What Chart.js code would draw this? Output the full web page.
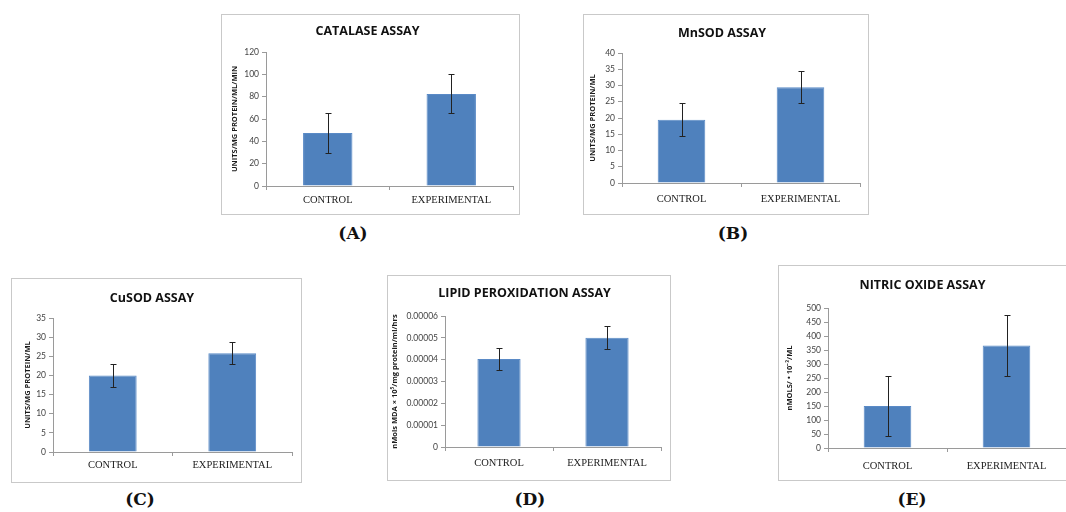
<!DOCTYPE html>
<html>
<head>
<meta charset="utf-8">
<script src="https://cdn.jsdelivr.net/npm/chart.js@4.4.0/dist/chart.umd.min.js"></script>
<style>
  body { margin: 0; background: #fff; width: 1066px; height: 512px; overflow: hidden; position: relative; }
  .panel { position: absolute; box-sizing: border-box; border: 1px solid #c9c9c9; background: #fff; }
  .panel canvas { display: block; }
  .tag { position: absolute; transform: translateX(-50%); font-family: "DejaVu Serif", serif; font-weight: bold; font-size: 17px; color: #111; }
</style>
</head>
<body>
<div class="panel" id="pA" style="left:221px;top:14px;width:299px;height:201px"><canvas id="cA"></canvas></div>
<div class="panel" id="pB" style="left:583px;top:14px;width:286px;height:201px"><canvas id="cB"></canvas></div>
<div class="panel" id="pC" style="left:11px;top:278px;width:291px;height:205px"><canvas id="cC"></canvas></div>
<div class="panel" id="pD" style="left:387px;top:275px;width:284px;height:206px"><canvas id="cD"></canvas></div>
<div class="panel" id="pE" style="left:778px;top:265px;width:300px;height:216px"><canvas id="cE"></canvas></div>

<div class="tag" style="left:353px;top:223px">(A)</div>
<div class="tag" style="left:733px;top:223px">(B)</div>
<div class="tag" style="left:140px;top:489px">(C)</div>
<div class="tag" style="left:530px;top:489px">(D)</div>
<div class="tag" style="left:912px;top:489px">(E)</div>

<script>
// data
const categories = ['CONTROL', 'EXPERIMENTAL'];

const catalaseMean = [47.5, 82.5];
const catalaseErr = [17.8, 17.5];

const mnsodMean = [19.5, 29.5];
const mnsodErr = [5, 5];

const cusodMean = [20, 25.8];
const cusodErr = [2.9, 2.9];

const lipidMean = [0.0000403, 0.00005];
const lipidErr = [0.0000049, 0.0000052];

const nitricMean = [150, 366];
const nitricErr = [108, 108];

const axisGrey = '#9a9a9a';
const barBlue = '#4f81bd';

// draws the +/- error whiskers on top of the bars
const errorBars = {
    id: 'errorBars',
    afterDatasetsDraw(chart) {
        const ctx = chart.ctx;
        const y = chart.scales.y;
        const ds = chart.data.datasets[0];
        const meta = chart.getDatasetMeta(0);
        ctx.save();
        ctx.strokeStyle = '#222';
        ctx.lineWidth = 1;
        meta.data.forEach((bar, i) => {
            const top = Math.round(y.getPixelForValue(ds.data[i] + ds.errors[i])) + 0.5;
            const bot = Math.round(y.getPixelForValue(ds.data[i] - ds.errors[i])) + 0.5;
            const x = Math.round(bar.x) + 0.5;
            ctx.beginPath();
            ctx.moveTo(x, top); ctx.lineTo(x, bot);
            ctx.moveTo(x - 3, top); ctx.lineTo(x + 3, top);
            ctx.moveTo(x - 3, bot); ctx.lineTo(x + 3, bot);
            ctx.stroke();
        });
        ctx.restore();
    }
};

// p: plot box inside the canvas (left, top, right pad, x-axis height), titleY: title centre
function makeChart(id, title, yTitle, means, errs, yMax, step, p, fmt) {
    const panel = document.getElementById('p' + id);
    const canvas = document.getElementById('c' + id);
    const w = panel.clientWidth, h = panel.clientHeight;
    canvas.width = w; canvas.height = h;
    const titleSize = 12.5;
    const tLine = titleSize * 1.2;
    return new Chart(canvas.getContext('2d'), {
        type: 'bar',
        data: {
            labels: categories,
            datasets: [{
                data: means,
                errors: errs,
                backgroundColor: barBlue,
                borderColor: '#5a8ac6',
                borderWidth: 1,
                categoryPercentage: 0.8,
                barPercentage: 0.5
            }]
        },
        options: {
            responsive: false,
            animation: false,
            events: [],
            layout: { padding: { left: 0, right: p.right, top: 0, bottom: 0 } },
            plugins: {
                legend: { display: false },
                tooltip: { enabled: false },
                title: {
                    display: true,
                    text: title,
                    color: '#111',
                    font: { family: 'Open Sans', weight: 'bold', size: titleSize },
                    padding: { top: p.titleY - tLine / 2, bottom: p.top - p.titleY - tLine / 2 }
                }
            },
            scales: {
                x: {
                    grid: { display: true, drawOnChartArea: false, color: axisGrey, tickLength: 4 },
                    border: { color: axisGrey },
                    ticks: {
                        color: '#222',
                        padding: p.labelPad,
                        font: { family: 'Liberation Serif', size: 10.5 }
                    },
                    afterFit: s => { s.height = p.xh; }
                },
                y: {
                    min: 0,
                    max: yMax,
                    grid: { display: true, drawOnChartArea: false, color: axisGrey, tickLength: 4 },
                    border: { color: axisGrey },
                    ticks: {
                        stepSize: step,
                        color: '#444',
                        padding: 3,
                        font: { family: 'Lato', size: 8.5 },
                        callback: fmt || (v => v)
                    },
                    title: {
                        display: true,
                        text: yTitle,
                        color: '#1a1a1a',
                        padding: { top: p.ytPad, bottom: 0 },
                        font: { family: 'Open Sans', weight: 'bold', size: 7.5 }
                    },
                    afterFit: s => { s.width = p.left; }
                }
            }
        },
        plugins: [errorBars]
    });
}

makeChart('A', 'CATALASE ASSAY', 'UNITS/MG PROTEIN/ML/MIN', catalaseMean, catalaseErr, 120, 20,
    { left: 44, top: 37, right: 6, xh: 28, titleY: 16, labelPad: 4, ytPad: 8.5 });
makeChart('B', 'MnSOD ASSAY', 'UNITS/MG PROTEIN/ML', mnsodMean, mnsodErr, 40, 5,
    { left: 38, top: 38, right: 8, xh: 31, titleY: 18, labelPad: 6, ytPad: 4.5 });
makeChart('C', 'CuSOD ASSAY', 'UNITS/MG PROTEIN/ML', cusodMean, cusodErr, 35, 5,
    { left: 41, top: 39, right: 9, xh: 30, titleY: 19, labelPad: 3, ytPad: 11 });
makeChart('D', 'LIPID PEROXIDATION ASSAY', 'nMols MDA \u00d7 10\u2075/mg protein/ml/hrs', lipidMean, lipidErr, 0.00006, 0.00001,
    { left: 57, top: 40, right: 9, xh: 33, titleY: 17, labelPad: 6, ytPad: 2.5 },
    v => v === 0 ? '0' : v.toFixed(5));
makeChart('E', 'NITRIC OXIDE ASSAY', 'nMOLS/ \u2022 10\u207b\u00b3/ML', nitricMean, nitricErr, 500, 50,
    { left: 49, top: 42, right: 11, xh: 32, titleY: 19, labelPad: 8, ytPad: 6.5 });
</script>
</body>
</html>
